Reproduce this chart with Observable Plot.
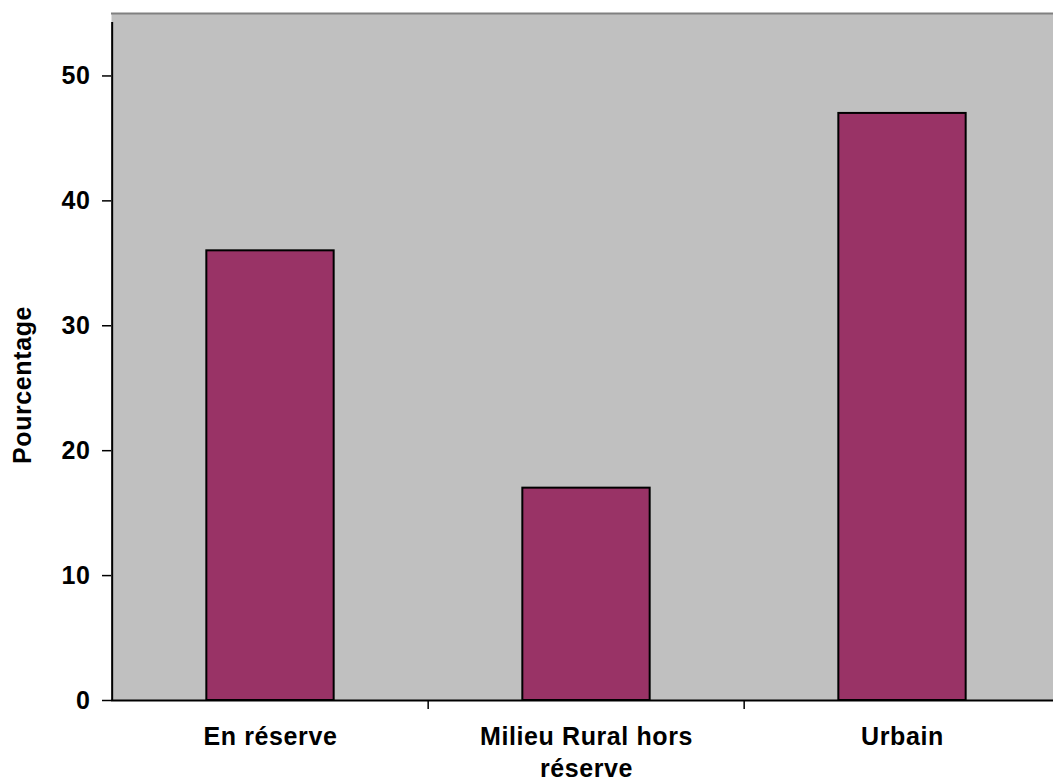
<!DOCTYPE html>
<html>
<head>
<meta charset="utf-8">
<script src="https://cdn.jsdelivr.net/npm/d3@7"></script>
<script src="https://cdn.jsdelivr.net/npm/@observablehq/plot@0.6"></script>
<style>
  html, body { margin: 0; padding: 0; background: #ffffff; overflow: hidden; }
  #chart { width: 1053px; height: 782px; overflow: hidden; }
  #chart svg { max-width: none !important; width: 1061px !important; height: 782px !important; }
  #chart svg text { letter-spacing: 0.6px; }
</style>
</head>
<body>
<div id="chart"></div>
<script>
// Share by area of residence
const categories = ["En réserve", "Milieu Rural hors réserve", "Urbain"];
const values = [36, 17, 47];
const tickLabels = ["En réserve", "Milieu Rural hors\nréserve", "Urbain"];
const yTicks = [0, 10, 20, 30, 40, 50];
const yLabel = "Pourcentage";

const data = categories.map((c, i) => ({category: c, value: values[i]}));
const labelOf = new Map(categories.map((c, i) => [c, tickLabels[i]]));

// Layout
const W = 1061, H = 782;
const ML = 111, MR = 0, MT = 13, MB = 82;
const step = (W - ML - MR) / categories.length;
const barWidth = 128;
const inset = (step - barWidth) / 2;
const FS = 25;

const chart = Plot.plot({
  width: W,
  height: H,
  marginLeft: ML,
  marginRight: MR,
  marginTop: MT,
  marginBottom: MB,
  style: {
    fontFamily: "'Liberation Sans', Arial, sans-serif",
    fontSize: FS + "px",
    fontWeight: "bold",
    color: "#000000",
    background: "#ffffff"
  },
  x: {domain: categories, padding: 0},
  y: {domain: [0, 55]},
  marks: [
    // plot area
    Plot.frame({fill: "#c0c0c0", stroke: null}),
    // bars
    Plot.barY(data, {
      x: "category", y: "value",
      fill: "#993366", stroke: "#000000", strokeWidth: 2,
      insetLeft: inset, insetRight: inset
    }),
    // top border of the plot area
    Plot.ruleY([55], {stroke: "#808080", strokeWidth: 2}),
    // category axis line
    Plot.ruleY([0], {stroke: "#000000", strokeWidth: 2}),
    // value axis line at the left edge of the first category
    Plot.ruleX([categories[0]], {
      y1: 0, y2: 55, dx: -step / 2,
      stroke: "#000000", strokeWidth: 2, insetBottom: -9
    }),
    // category boundary ticks
    Plot.ruleX(categories.slice(1), {
      y1: 0, y2: 0, dx: -step / 2,
      stroke: "#000000", strokeWidth: 1.5, insetBottom: -9
    }),
    Plot.axisY({
      ticks: yTicks, tickSize: 9, tickPadding: 12,
      tickFormat: d => String(d), label: null,
      stroke: "#000000", strokeWidth: 1.5,
      fontSize: FS, fontWeight: "bold"
    }),
    Plot.axisX({
      tickSize: 0, tickPadding: 22, label: null,
      tickFormat: d => labelOf.get(d), lineHeight: 1.28,
      fontSize: FS, fontWeight: "bold"
    }),
    // value axis title
    Plot.text([yLabel], {
      frameAnchor: "left", textAnchor: "middle", rotate: -90,
      dx: 22 - ML, dy: 28,
      text: d => d, fontSize: FS, fontWeight: "bold", fill: "#000000"
    })
  ]
});

document.getElementById("chart").appendChild(chart);
</script>
</body>
</html>
